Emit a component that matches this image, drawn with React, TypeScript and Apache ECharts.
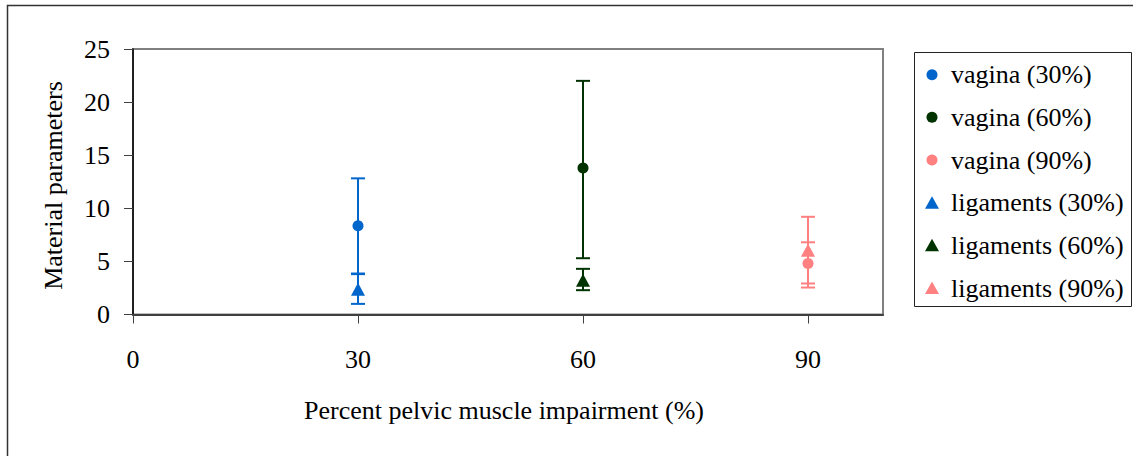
import React, { useEffect, useRef } from "react";
import * as echarts from "echarts";

const xValues = [30, 60, 90];
const groupLabels = ["30%", "60%", "90%"];
const colors = ["#0066CC", "#003300", "#FF8080"];
const vaginaMean = [8.35, 13.8, 4.8];
const vaginaLow = [3.86, 5.3, 2.54];
const vaginaHigh = [12.82, 22.0, 6.8];
const ligMean = [2.37, 3.23, 6.06];
const ligLow = [1.0, 2.29, 2.92];
const ligHigh = [3.8, 4.3, 9.2];
const xTicks = [0, 30, 60, 90];
const yTicks = [0, 5, 10, 15, 20, 25];

const FONT = "Liberation Serif";

function errorSeries(name: string, x: number, lo: number, hi: number, color: string) {
  return {
    type: "custom",
    name,
    silent: true,
    encode: { x: 0, y: [1, 2] },
    data: [[x, lo, hi]],
    z: 1,
    renderItem: (params: any, api: any) => {
      const xv = api.value(0);
      const pLo = api.coord([xv, api.value(1)]);
      const pHi = api.coord([xv, api.value(2)]);
      const hw = 7;
      const style = { stroke: color, lineWidth: 2 };
      return {
        type: "group",
        children: [
          { type: "line", shape: { x1: pLo[0], y1: pLo[1], x2: pHi[0], y2: pHi[1] }, style },
          { type: "line", shape: { x1: pHi[0] - hw, y1: pHi[1], x2: pHi[0] + hw, y2: pHi[1] }, style },
          { type: "line", shape: { x1: pLo[0] - hw, y1: pLo[1], x2: pLo[0] + hw, y2: pLo[1] }, style },
        ],
      };
    },
  };
}

export default function App() {
  const ref = useRef<HTMLDivElement>(null);
  useEffect(() => {
    if (!ref.current) return;
    const chart = echarts.init(ref.current, undefined, { renderer: "svg" });
    const series: any[] = [];
    const legendEntries: { name: string; shape: string; color: string }[] = [];
    xValues.forEach((x, i) => {
      series.push(errorSeries("err-v" + i, x, vaginaLow[i], vaginaHigh[i], colors[i]));
      series.push(errorSeries("err-l" + i, x, ligLow[i], ligHigh[i], colors[i]));
    });
    xValues.forEach((x, i) => {
      const name = `vagina (${groupLabels[i]})`;
      legendEntries.push({ name, shape: "circle", color: colors[i] });
      series.push({
        type: "scatter",
        name,
        symbol: "circle",
        symbolSize: 11,
        itemStyle: { color: colors[i], opacity: 1 },
        data: [[x, vaginaMean[i]]],
        z: 3,
      });
    });
    xValues.forEach((x, i) => {
      const name = `ligaments (${groupLabels[i]})`;
      legendEntries.push({ name, shape: "triangle", color: colors[i] });
      series.push({
        type: "scatter",
        name,
        symbol: "triangle",
        symbolSize: [14, 13],
        itemStyle: { color: colors[i], opacity: 1 },
        data: [[x, ligMean[i]]],
        z: 3,
      });
    });

    // Legend drawn with graphic elements (layout positions only)
    const legendX = 932;
    const legendY0 = 74.7;
    const legendStep = 42.66;
    const legendGraphics: any[] = [];
    legendEntries.forEach((e, k) => {
      const cy = legendY0 + k * legendStep;
      if (e.shape === "circle") {
        legendGraphics.push({
          type: "circle",
          shape: { cx: legendX, cy, r: 5.5 },
          style: { fill: e.color },
          silent: true,
        });
      } else {
        legendGraphics.push({
          type: "polygon",
          shape: { points: [[legendX, cy - 6.5], [legendX - 7, cy + 6], [legendX + 7, cy + 6]] },
          style: { fill: e.color },
          silent: true,
        });
      }
      legendGraphics.push({
        type: "text",
        x: 951,
        y: cy,
        silent: true,
        style: {
          text: e.name,
          fontSize: 26,
          fontFamily: FONT,
          fill: "#000",
          align: "left",
          verticalAlign: "middle",
        },
      });
    });

    chart.setOption({
      animation: false,
      backgroundColor: "#ffffff",
      textStyle: { fontFamily: FONT, color: "#000" },
      grid: {
        left: 133,
        top: 49,
        width: 750,
        height: 265.5,
        show: true,
        borderColor: "#808080",
        borderWidth: 2,
        containLabel: false,
      },
      xAxis: {
        type: "value",
        min: 0,
        max: 100,
        interval: 30,
        splitLine: { show: false },
        axisLine: { show: true, onZero: false, lineStyle: { color: "#404040", width: 2 } },
        axisTick: { show: true, inside: false, length: 9, customValues: xTicks, lineStyle: { color: "#404040", width: 1 } },
        axisLabel: {
          customValues: xTicks,
          margin: 32,
          fontSize: 26,
          fontFamily: FONT,
          color: "#000",
        },
      },
      yAxis: {
        type: "value",
        min: 0,
        max: 25,
        interval: 5,
        splitLine: { show: false },
        axisLine: { show: true, onZero: false, lineStyle: { color: "#000", width: 1.5 } },
        axisTick: { show: true, inside: false, length: 9, customValues: yTicks, lineStyle: { color: "#404040", width: 1 } },
        axisLabel: {
          customValues: yTicks,
          margin: 23,
          fontSize: 26,
          fontFamily: FONT,
          color: "#000",
        },
      },
      legend: { show: false },
      graphic: [
        {
          type: "rect",
          shape: { x: 7.5, y: 5.5, width: 1300, height: 600 },
          style: { fill: "none", stroke: "#333", lineWidth: 1.5 },
          silent: true,
          z: -10,
        },
        {
          type: "rect",
          shape: { x: 914.5, y: 52.5, width: 217, height: 254 },
          style: { fill: "none", stroke: "#222", lineWidth: 1 },
          silent: true,
        },
        ...legendGraphics,
        {
          type: "text",
          x: 53,
          y: 185.5,
          rotation: Math.PI / 2,
          style: {
            text: "Material parameters",
            fontSize: 26,
            fontFamily: FONT,
            fill: "#000",
            align: "center",
            verticalAlign: "middle",
          },
        },
        {
          type: "text",
          x: 504,
          y: 410,
          style: {
            text: "Percent pelvic muscle impairment (%)",
            fontSize: 26,
            fontFamily: FONT,
            fill: "#000",
            align: "center",
            verticalAlign: "middle",
          },
        },
      ],
      series,
    });
    return () => chart.dispose();
  }, []);
  return (
    <div
      ref={ref}
      style={{ position: "absolute", left: 0, top: 0, width: 1133, height: 456, background: "#fff" }}
    />
  );
}
